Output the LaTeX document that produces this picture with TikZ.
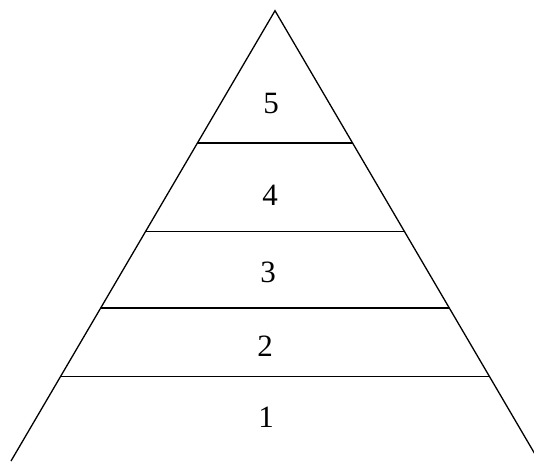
\documentclass[tikz,border=0pt]{standalone}
\usepackage{fontspec}
\setmainfont{Liberation Serif}
\usetikzlibrary{calc}

\begin{document}
\begin{tikzpicture}[
    x=1pt, y=-1pt,
    edge/.style={draw=black, line width=1.3pt, line join=miter},
    level/.style={draw=black, line width=1.3pt},
    num/.style={inner sep=0pt, font=\fontsize{31}{34}\selectfont}
  ]
    \useasboundingbox (0,0) rectangle (534,461);
    \coordinate (top) at (275,10.7);
    \coordinate (bl) at (11,461);
    \coordinate (br) at (539,461);
    \draw[edge] (bl) -- (top) -- (br);
    % dividing lines between the levels
    \foreach \f/\n in {0.294/a, 0.491/b, 0.660/c, 0.813/d} {
      \coordinate (l\n) at ($(top)!\f!(bl)$);
      \coordinate (r\n) at ($(top)!\f!(br)$);
      \draw[level] (l\n) -- (r\n);
    }
    \node[num] (lvl5) at (271,103) {5};
    \node[num] (lvl4) at (270,195) {4};
    \node[num] (lvl3) at (268,272) {3};
    \node[num] (lvl2) at (265,346) {2};
    \node[num] (lvl1) at (266,417) {1};
  \end{tikzpicture}
\end{document}
